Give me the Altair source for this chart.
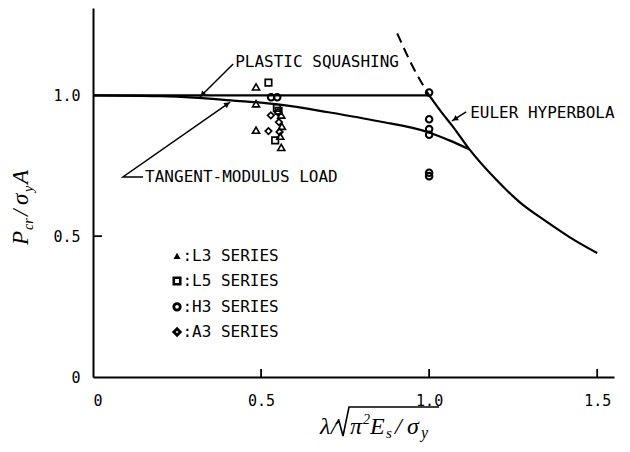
import math
import altair as alt
import pandas as pd

# ---------------- data ----------------
# test series (x = slenderness parameter, y = Pcr / (sigma_y A))
l3_x = [0.485, 0.485, 0.485, 0.560, 0.562, 0.557, 0.560]
l3_y = [1.030, 0.970, 0.876, 0.930, 0.890, 0.855, 0.815]
l5_x = [0.522, 0.547, 0.552, 0.542]
l5_y = [1.045, 0.955, 0.945, 0.840]
h3_x = [1.0, 1.0, 1.0, 1.0, 1.0, 1.0, 0.530, 0.548]
h3_y = [1.010, 0.915, 0.880, 0.860, 0.725, 0.713, 0.993, 0.993]
a3_x = [0.522, 0.529, 0.553, 0.555, 0.550]
a3_y = [0.873, 0.929, 0.905, 0.870, 0.940]

# curves
plastic_x = [0.0, 1.0]
plastic_y = [1.0, 1.0]
tangent_x = [0.0, 0.2, 0.3, 0.41, 0.55, 0.70, 0.85, 1.00, 1.06, 1.12]
tangent_y = [1.0, 0.997, 0.992, 0.982, 0.968, 0.940, 0.908, 0.868, 0.840, 0.808]
euler_x = [1.00, 1.04, 1.07, 1.12, 1.20, 1.27, 1.345, 1.42, 1.50]
euler_y = [1.00, 0.935, 0.89, 0.808, 0.70, 0.62, 0.555, 0.495, 0.440]
euler_dash_x = [0.905, 0.95, 1.00]
euler_dash_y = [1.22, 1.105, 1.00]

# axis ticks
x_ticks = [0, 0.5, 1.0, 1.5]
y_ticks = [0, 0.5, 1.0]

# legend
legend_labels = [":L3 SERIES", ":L5 SERIES", ":H3 SERIES", ":A3 SERIES"]
legend_y = [0.430, 0.341, 0.249, 0.160]

# annotations (data coordinates)
ann_text = ["PLASTIC SQUASHING", "TANGENT-MODULUS LOAD", "EULER HYPERBOLA"]
ann_x = [0.423, 0.155, 1.122]
ann_y = [1.118, 0.710, 0.937]

# ---------------- layout ----------------
W, H = 521, 369
XD = [0.0, 1.55]
YD = [0.0, 1.31]
SX = W / (XD[1] - XD[0])
SY = H / (YD[1] - YD[0])
FONT = "DejaVu Sans Mono"
SERIF = "Liberation Serif"

label_expr = "datum.value == 0 ? '0' : format(datum.value, '.1f')"
x_axis = alt.Axis(values=x_ticks, labelExpr=label_expr, ticks=False, grid=False,
                  domainColor="black", domainWidth=2, labelFont=FONT,
                  labelFontSize=15, labelColor="black", labelPadding=16, title=None)
y_axis = alt.Axis(values=y_ticks, labelExpr=label_expr, ticks=False, grid=False,
                  domainColor="black", domainWidth=2, labelFont=FONT,
                  labelFontSize=15, labelColor="black", labelPadding=13, title=None)


def X():
    return alt.X("x:Q", scale=alt.Scale(domain=XD, nice=False, zero=False), axis=x_axis)


def Y():
    return alt.Y("y:Q", scale=alt.Scale(domain=YD, nice=False, zero=False), axis=y_axis)


def line_layer(xs, ys, width=2.0, dash=None, interp="linear"):
    df = pd.DataFrame({"x": xs, "y": ys, "i": list(range(len(xs)))})
    kw = dict(color="black", strokeWidth=width, interpolate=interp)
    if dash:
        kw["strokeDash"] = dash
    return alt.Chart(df).mark_line(**kw).encode(x=X(), y=Y(), order=alt.Order("i:Q"))


def points(xs, ys, shape, size, sw, filled=False):
    df = pd.DataFrame({"x": xs, "y": ys})
    return alt.Chart(df).mark_point(shape=shape, size=size, filled=filled,
                                    color="black", strokeWidth=sw, opacity=1).encode(x=X(), y=Y())


def arrow_head(tail, head):
    # pixel direction
    dxp = (head[0] - tail[0]) * SX
    dyp = -(head[1] - tail[1]) * SY
    ang = math.degrees(math.atan2(dxp, -dyp)) % 360
    L = math.hypot(dxp, dyp)
    back = 3.5
    hx = head[0] - dxp / L * back / SX
    hy = head[1] + dyp / L * back / SY
    df = pd.DataFrame({"x": [hx], "y": [hy], "a": [ang]})
    return alt.Chart(df).mark_point(shape="triangle-up", size=38, filled=True,
                                    color="black", opacity=1).encode(
        x=X(), y=Y(), angle=alt.Angle("a:Q", scale=None))


layers = []

# curves
layers.append(line_layer(plastic_x, plastic_y, 2.2))
layers.append(line_layer(tangent_x, tangent_y, 2.2, interp="monotone"))
layers.append(line_layer(euler_x, euler_y, 2.2, interp="monotone"))
layers.append(line_layer(euler_dash_x, euler_dash_y, 2.0, dash=[10, 6], interp="monotone"))

# inward ticks
tick_x = pd.DataFrame({"x": [0.5, 1.0, 1.5], "y": [0.0] * 3, "y2": [8 / SY] * 3})
layers.append(alt.Chart(tick_x).mark_rule(color="black", strokeWidth=1.8).encode(
    x=X(), y=Y(), y2="y2:Q"))
tick_y = pd.DataFrame({"x": [0.0], "x2": [9 / SX], "y": [0.5]})
layers.append(alt.Chart(tick_y).mark_rule(color="black", strokeWidth=1.8).encode(
    x=X(), x2="x2:Q", y=Y()))

# data points
layers.append(points(l3_x, l3_y, "triangle-up", 50, 1.6))
layers.append(points(l5_x, l5_y, "square", 42, 1.7))
layers.append(points(h3_x, h3_y, "circle", 42, 2.1))
layers.append(points(a3_x, a3_y, "diamond", 42, 1.7))

# legend
sym_x = 0.25
layers.append(points([sym_x], [legend_y[0]], "triangle-up", 50, 1.5, filled=True))
layers.append(points([sym_x], [legend_y[1]], "square", 42, 2.6))
layers.append(points([sym_x], [legend_y[2]], "circle", 42, 2.8))
layers.append(points([sym_x], [legend_y[3]], "diamond", 42, 2.8))
leg_df = pd.DataFrame({"x": [0.266] * 4, "y": legend_y, "t": legend_labels})
layers.append(alt.Chart(leg_df).mark_text(align="left", baseline="middle", font=FONT,
                                          fontSize=16, color="black").encode(
    x=X(), y=Y(), text="t:N"))

# annotations
ann_df = pd.DataFrame({"x": ann_x, "y": ann_y, "t": ann_text})
layers.append(alt.Chart(ann_df).mark_text(align="left", baseline="middle", font=FONT,
                                          fontSize=16, color="black").encode(
    x=X(), y=Y(), text="t:N"))

# leaders and arrows
p_tail, p_head = (0.417, 1.111), (0.318, 0.994)
layers.append(line_layer([p_tail[0], p_head[0]], [p_tail[1], p_head[1]], 1.5))
layers.append(arrow_head(p_tail, p_head))
t_pts_x = [0.149, 0.089, 0.408]
t_pts_y = [0.710, 0.710, 0.976]
layers.append(line_layer(t_pts_x, t_pts_y, 1.5))
layers.append(arrow_head((t_pts_x[1], t_pts_y[1]), (t_pts_x[2], t_pts_y[2])))
e_tail, e_head = (1.110, 0.941), (1.068, 0.909)
layers.append(line_layer([e_tail[0], e_head[0]], [e_tail[1], e_head[1]], 1.5))
layers.append(arrow_head(e_tail, e_head))

# ---------------- axis titles (math set from fragments) ----------------
def frag(text, px, py, size, angle=0, dx=0, dy=0):
    kw = dict(align="left", baseline="alphabetic", font=SERIF, fontStyle="italic",
              fontSize=size, color="black", dx=dx, dy=dy)
    if angle:
        kw["angle"] = angle
    return alt.Chart(pd.DataFrame({"a": [0]})).mark_text(**kw).encode(
        x=alt.value(px), y=alt.value(py), text=alt.value(text))

# y title: P_cr / sigma_y A (rotated), base at plot coords
ybx, yby = -65, 237
for t, off, sz, sub in [("P", 0, 23, 0), ("cr", 15, 14, 5), ("/", 29, 23, 0),
                        ("σ", 40, 23, 0), ("y", 53, 14, 5), ("A", 61, 23, 0)]:
    layers.append(frag(t, ybx, yby, sz, angle=270, dx=off, dy=sub))

# x title: lambda / sqrt(pi^2 E_s / sigma_y)
xb = 426  # baseline in plot coords
for t, px, sz, shift in [("λ", 227, 24, 0), ("/", 238, 24, 0), ("π", 257, 24, 0),
                         ("2", 270, 14, -10), ("E", 277, 24, 0), ("s", 293, 15, 4),
                         ("/", 302, 24, 0), ("σ", 314, 24, 0), ("y", 328, 16, 4)]:
    layers.append(frag(t, px, xb, sz, dy=shift))

# radical sign drawn as a path (plot pixel offsets converted to data units)
rad_px = [(243, 416), (246, 413), (250, 428), (256, 399), (346, 399)]
rad_x = [p[0] / SX for p in rad_px]
rad_y = [YD[1] - p[1] / SY for p in rad_px]
layers.append(line_layer(rad_x, rad_y, 1.6))

chart = alt.layer(*layers).properties(
    width=W, height=H,
    autosize=alt.AutoSizeParams(type="none"),
    padding={"left": 85, "top": 0, "right": 8, "bottom": 67},
).configure_view(stroke=None)

chart.save("out.html", embed_options={"renderer": "svg", "actions": False})
